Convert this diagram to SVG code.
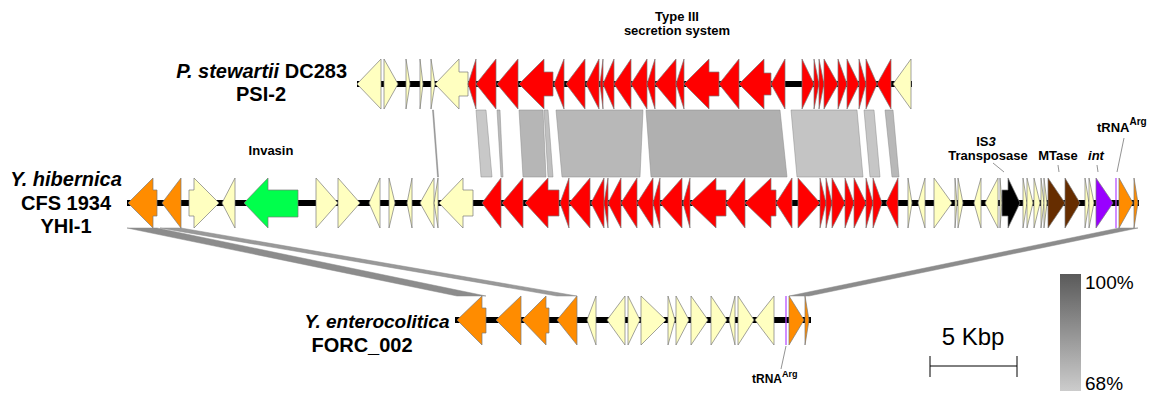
<svg xmlns="http://www.w3.org/2000/svg" width="1151" height="393" viewBox="0 0 1151 393">
<style>
text{font-family:"Liberation Sans",Arial,sans-serif;fill:#000}
.b{font-weight:bold}
.i{font-style:italic}
.lab{font-size:20px;font-weight:bold}
.sm{font-size:13px;font-weight:bold}
.bb{stroke:#000;stroke-width:6}
.g polygon{stroke:#7a7a7a;stroke-width:0.7}
.cr{fill:#ffffc0}
.rd{fill:#ff0000}
.or{fill:#ff8c00}
.gr{fill:#00ff4c}
.bk{fill:#000}
.br{fill:#662d00}
.pu{fill:#9900ff}
.band{stroke:#8a8a8a;stroke-width:0.5}
.lead{stroke:#777;stroke-width:0.8;fill:none}
</style>
<defs>
<linearGradient id="pid" x1="0" y1="0" x2="0" y2="1">
<stop offset="0" stop-color="#5a5a5a"/>
<stop offset="1" stop-color="#cccccc"/>
</linearGradient>
</defs>

<g id="connectors">
<polygon class="band" fill="#999" points="432.5,110 433.5,110 438.5,177 437.5,177"/>
<polygon class="band" fill="#c8c8c8" points="476,110 486,110 492,177 481,177"/>
<polygon class="band" fill="#bbbbbb" points="497,110 500,110 503,177 501,177"/>
<polygon class="band" fill="#b6b6b6" points="519,110 543,110 546,177 523,177"/>
<polygon class="band" fill="#c0c0c0" points="544,110 548,110 553,177 548,177"/>
<polygon class="band" fill="#b8b8b8" points="556,110 643,110 640,177 562,177"/>
<polygon class="band" fill="#b0b0b0" points="646,110 780,110 787,177 651,177"/>
<polygon class="band" fill="#c4c4c4" points="791,110 857,110 863,177 797,177"/>
<polygon class="band" fill="#c6c6c6" points="864,110 874,110 880,177 870,177"/>
<polygon class="band" fill="#b8b8b8" points="885,110 893,110 899,177 892,177"/>
<polygon class="band" fill="#8c8c8c" points="127,228 157,228 486,296 457,296"/>
<polygon class="band" fill="#999999" points="160,228 181,228 577,296 557,296"/>
<polygon class="band" fill="#8c8c8c" points="1119,228 1138,228 809,296 789,296"/>
</g>

<g id="track-pstewartii" class="g">
<line class="bb" x1="357" y1="84" x2="912" y2="84"/>
<polygon class="cr" points="357,84 381,59 381,109"/>
<polygon class="cr" points="384,59 398,84 384,109"/>
<polygon class="cr" points="406,59 410,84 406,109"/>
<polygon class="cr" points="420,59 423,84 420,109"/>
<polygon class="cr" points="431,59 435,84 431,109"/>
<polygon class="cr" points="435,84 459,59 459,72 468,72 468,96 459,96 459,109"/>
<polygon class="rd" points="468,84 476,59 476,109"/>
<polygon class="rd" points="476,84 496,59 496,109"/>
<polygon class="rd" points="497,84 518,59 518,109"/>
<polygon class="rd" points="519,84 544,59 544,72 553,72 553,96 544,96 544,109"/>
<polygon class="rd" points="554,84 564,59 564,109"/>
<polygon class="rd" points="566,84 585,59 585,109"/>
<polygon class="rd" points="586,84 599,59 599,109"/>
<polygon class="rd" points="600,84 603,59 603,109"/>
<polygon class="rd" points="603,84 614,59 614,109"/>
<polygon class="rd" points="614,84 631,59 631,109"/>
<polygon class="rd" points="631,84 647,59 647,109"/>
<polygon class="rd" points="647,84 655,59 655,109"/>
<polygon class="rd" points="655,84 676,59 676,109"/>
<polygon class="rd" points="676,84 684,59 684,109"/>
<polygon class="rd" points="684,84 709,59 709,72 719,72 719,96 709,96 709,109"/>
<polygon class="rd" points="719,84 739,59 739,109"/>
<polygon class="rd" points="739,84 764,59 764,73 771,73 771,95 764,95 764,109"/>
<polygon class="rd" points="771,84 785,59 785,109"/>
<polygon class="rd" points="802,59 814,84 802,109"/>
<polygon class="rd" points="814,59 819,84 814,109"/>
<polygon class="rd" points="819,59 824,84 819,109"/>
<polygon class="rd" points="824,59 838,84 824,109"/>
<polygon class="rd" points="838,59 847,84 838,109"/>
<polygon class="rd" points="847,59 859,84 847,109"/>
<polygon class="rd" points="859,59 866,84 859,109"/>
<polygon class="rd" points="866,59 877,84 866,109"/>
<polygon class="rd" points="877,84 891,59 891,109"/>
<polygon class="cr" points="893,84 911,59 911,109"/>
</g>

<g id="track-yhibernica" class="g">
<line class="bb" x1="127" y1="203" x2="1139" y2="203"/>
<polygon class="or" points="128,203 153,178 153,190 157,190 157,216 153,216 153,228"/>
<polygon class="or" points="162,203 181,178 181,228"/>
<polygon class="cr" points="189,190 194,190 194,178 219,203 194,228 194,216 189,216"/>
<polygon class="cr" points="222,203 235,178 235,228"/>
<polygon class="gr" points="244,203 268,178 268,190 298,190 298,217 268,217 268,228"/>
<polygon class="cr" points="316,178 338,203 316,228"/>
<polygon class="cr" points="338,178 360,203 338,228"/>
<polygon class="cr" points="369,203 380,178 380,228"/>
<polygon class="cr" points="389,178 395,203 389,228"/>
<polygon class="cr" points="407,203 412,178 412,228"/>
<polygon class="cr" points="420,203 434,178 434,228"/>
<polygon class="cr" points="434,203 438,178 438,228"/>
<polygon class="cr" points="439,203 463,178 463,190 473,190 473,216 463,216 463,228"/>
<polygon class="rd" points="482,203 501,178 501,228"/>
<polygon class="rd" points="502,203 523,178 523,228"/>
<polygon class="rd" points="525,203 548,178 548,190 559,190 559,216 548,216 548,228"/>
<polygon class="rd" points="560,203 569,178 569,228"/>
<polygon class="rd" points="569,203 590,178 590,228"/>
<polygon class="rd" points="591,203 604,178 604,228"/>
<polygon class="rd" points="604,203 608,178 608,228"/>
<polygon class="rd" points="608,203 621,178 621,228"/>
<polygon class="rd" points="621,203 637,178 637,228"/>
<polygon class="rd" points="637,203 653,178 653,228"/>
<polygon class="rd" points="653,203 660,178 660,228"/>
<polygon class="rd" points="660,203 682,178 682,228"/>
<polygon class="rd" points="683,203 690,178 690,228"/>
<polygon class="rd" points="690,203 716,178 716,190 726,190 726,216 716,216 716,228"/>
<polygon class="rd" points="726,203 745,178 745,228"/>
<polygon class="rd" points="745,203 771,178 771,190 776,190 776,216 771,216 771,228"/>
<polygon class="rd" points="776,203 792,178 792,228"/>
<polygon class="rd" points="798,178 820,203 798,228"/>
<polygon class="rd" points="820,178 826,203 820,228"/>
<polygon class="rd" points="826,178 832,203 826,228"/>
<polygon class="rd" points="832,178 845,203 832,228"/>
<polygon class="rd" points="845,178 854,203 845,228"/>
<polygon class="rd" points="854,178 866,203 854,228"/>
<polygon class="rd" points="866,178 873,203 866,228"/>
<polygon class="rd" points="873,178 882,203 873,228"/>
<polygon class="rd" points="886,203 898,178 898,228"/>
<polygon class="cr" points="908,178 912,203 908,228"/>
<polygon class="cr" points="918,203 925,178 925,228"/>
<polygon class="cr" points="934,178 952,203 934,228"/>
<polygon class="cr" points="955,178 957,203 955,228"/>
<polygon class="cr" points="958,178 963,203 958,228"/>
<polygon class="cr" points="974,203 981,178 981,228"/>
<polygon class="cr" points="985,203 998,178 998,228"/>
<polygon class="cr" points="1000,178 1002,203 1000,228"/>
<polygon class="bk" points="1002,190 1008,190 1008,178 1020,203 1008,228 1008,216 1002,216"/>
<polygon class="cr" points="1023,178 1027,203 1023,228"/>
<polygon class="cr" points="1027,178 1033,203 1027,228"/>
<polygon class="cr" points="1034,178 1040,203 1034,228"/>
<polygon class="cr" points="1041,178 1044,203 1041,228"/>
<polygon class="cr" points="1044,178 1047,203 1044,228"/>
<polygon class="br" points="1048,178 1065,203 1048,228"/>
<polygon class="br" points="1065,178 1080,203 1065,228"/>
<polygon class="cr" points="1085,178 1089,203 1085,228"/>
<polygon class="cr" points="1089,178 1094,203 1089,228"/>
<polygon class="pu" points="1096,178 1113,203 1096,228"/>
<line x1="1116" y1="178" x2="1116" y2="228" stroke="#b040ff" stroke-width="1.2"/>
<polygon class="or" points="1119,178 1133,203 1119,228"/>
<polygon class="or" points="1134,178 1138,203 1134,228"/>
</g>

<g id="track-yenterocolitica" class="g">
<line class="bb" x1="455" y1="320" x2="811" y2="320"/>
<polygon class="or" points="457,320 482,296 482,308 486,308 486,333 482,333 482,345"/>
<polygon class="or" points="496,320 521,296 521,345"/>
<polygon class="or" points="522,320 546,296 546,308 549,308 549,333 546,333 546,345"/>
<polygon class="or" points="557,320 577,296 577,345"/>
<polygon class="cr" points="587,320 596,296 596,345"/>
<polygon class="cr" points="607,320 625,296 625,345"/>
<polygon class="cr" points="628,296 640,320 628,345"/>
<polygon class="cr" points="641,296 666,320 641,345"/>
<polygon class="cr" points="668,296 675,320 668,345"/>
<polygon class="cr" points="676,296 689,320 676,345"/>
<polygon class="cr" points="691,296 708,320 691,345"/>
<polygon class="cr" points="711,296 727,320 711,345"/>
<polygon class="cr" points="729,320 735,296 735,345"/>
<polygon class="cr" points="738,296 754,320 738,345"/>
<polygon class="cr" points="755,320 774,296 774,345"/>
<line x1="786" y1="296" x2="786" y2="345" stroke="#b040ff" stroke-width="1.2"/>
<polygon class="or" points="789,296 804,320 789,345"/>
<polygon class="or" points="805,296 809,320 805,345"/>
</g>

<g id="labels">
<text class="lab" x="347" y="78" text-anchor="end"><tspan class="i">P. stewartii</tspan> DC283</text>
<text class="lab" x="261" y="101" text-anchor="middle">PSI-2</text>
<text class="lab i" x="66" y="186" text-anchor="middle">Y. hibernica</text>
<text class="lab" x="66" y="210" text-anchor="middle">CFS 1934</text>
<text class="lab" x="66" y="233" text-anchor="middle">YHI-1</text>
<text class="lab i" x="377" y="328" style="font-size:19px" text-anchor="middle">Y. enterocolitica</text>
<text class="lab" x="362" y="352" text-anchor="middle">FORC_002</text>
<text class="sm" x="677" y="21" text-anchor="middle">Type III</text>
<text class="sm" x="677" y="35" text-anchor="middle">secretion system</text>
<text class="sm" x="271" y="155" text-anchor="middle">Invasin</text>
<text class="sm" x="986" y="146" text-anchor="middle">IS<tspan class="i">3</tspan></text>
<text class="sm" x="988" y="160" text-anchor="middle">Transposase</text>
<text class="sm" x="1058" y="160" text-anchor="middle">MTase</text>
<text class="sm i" x="1096" y="160" text-anchor="middle">int</text>
<text class="sm" x="1097" y="132">tRNA<tspan font-size="10" dy="-7">Arg</tspan></text>
<text class="b" font-size="12" x="752" y="383">tRNA<tspan font-size="9" dy="-6">Arg</tspan></text>
<line class="lead" x1="993" y1="163" x2="1004" y2="172"/>
<line class="lead" x1="1058" y1="165" x2="1059" y2="172"/>
<line class="lead" x1="1097" y1="165" x2="1098" y2="172"/>
<line class="lead" x1="1124" y1="138" x2="1117" y2="172"/>
<line class="lead" x1="786" y1="346" x2="781" y2="369"/>
</g>

<g id="scale">
<text x="973" y="345" font-size="24" text-anchor="middle">5 Kbp</text>
<path d="M930,366H1017M930,356V377M1017,356V377" stroke="#000" stroke-width="1" fill="none"/>
</g>

<g id="legend">
<rect x="1060" y="274" width="21" height="117" fill="url(#pid)"/>
<text x="1085" y="289" font-size="19">100%</text>
<text x="1085" y="390" font-size="19">68%</text>
</g>
</svg>
